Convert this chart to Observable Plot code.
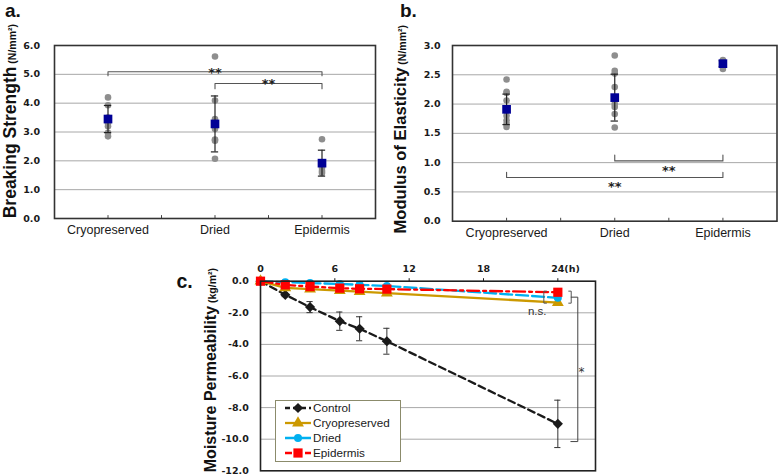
<!DOCTYPE html>
<html><head><meta charset="utf-8">
<script src="https://cdn.jsdelivr.net/npm/d3@7"></script>
<script src="https://cdn.jsdelivr.net/npm/@observablehq/plot@0.6"></script>
<style>
body{margin:0;background:#fff;}
#wrap{position:relative;width:779px;height:476px;overflow:hidden;font-family:"Liberation Sans",Arial,sans-serif;color:#1a1a1a;}
.panel{position:absolute;}
.plabel{position:absolute;font-weight:bold;font-family:"Liberation Sans",Arial,sans-serif;line-height:normal;color:#111;}
#legend{position:absolute;left:275px;top:400px;width:124px;height:60px;border:1px solid #8b8b6b;background:#fff;}
.lrow{position:absolute;left:0;height:14px;width:124px;}
.lrow svg{position:absolute;left:9px;top:0;}
.lrow span{position:absolute;left:37px;top:0;font-size:11.7px;line-height:14px;font-family:"Liberation Sans",Arial,sans-serif;}
</style></head><body><div id="wrap"></div>
<script>
// ---------- shared ----------
const categories = ["Cryopreserved", "Dried", "Epidermis"];

// ---------- panel a: Breaking Strength ----------
const aDotsCryo  = [4.2, 3.93, 3.5, 3.3, 3.2, 2.97, 2.85];
const aDotsDried = [5.62, 4.09, 3.45, 3.2, 3.1, 2.74, 2.7, 2.07];
const aDotsEpi   = [2.75, 1.95, 1.85, 1.75, 1.65, 1.58];
const aMeans = [3.45, 3.28, 1.92];
const aSD    = [0.47, 0.97, 0.45];
const aTicks = [0, 1, 2, 3, 4, 5, 6];
const aBrackets = [
  {from: 0, to: 2, level: 5.09, tip: 4.95, label: "**", labelY: 5.05},
  {from: 1, to: 2, level: 4.68, tip: 4.50, label: "**", labelY: 4.66}
];

// ---------- panel b: Modulus of Elasticity ----------
const bDotsCryo  = [2.42, 2.21, 2.19, 2.06, 1.9, 1.8, 1.72, 1.66, 1.61];
const bDotsDried = [2.83, 2.57, 2.52, 2.29, 2.0, 1.95, 1.83, 1.6];
const bDotsEpi   = [2.75, 2.71, 2.66, 2.6];
const bMeans = [1.91, 2.11, 2.69];
const bSD    = [0.26, 0.40, 0.05];
const bTicks = [0, 0.5, 1, 1.5, 2, 2.5, 3];
const bBrackets = [
  {from: 1, to: 2, level: 1.03, tip: 1.13, label: "**", labelY: 0.86},
  {from: 0, to: 2, level: 0.746, tip: 0.837, label: "**", labelY: 0.587}
];

// ---------- panel c: Moisture Permeability ----------
const times = [0, 2, 4, 6.4, 8, 10.2, 24];
const seriesNames = ["Control", "Cryopreserved", "Dried", "Epidermis"];
const controlValues = [0, -0.86, -1.64, -2.53, -3.01, -3.8, -9.03];
const controlErr    = [0, 0.12, 0.35, 0.58, 0.76, 0.82, 1.5];
const cryoValues    = [0, -0.42, -0.5, -0.6, -0.66, -0.75, -1.35];
const driedValues   = [0, -0.06, -0.12, -0.17, -0.23, -0.3, -1.05];
const epiValues     = [0, -0.23, -0.34, -0.44, -0.48, -0.5, -0.7];
const seriesColors  = ["#1a1a1a", "#CC9900", "#00B0F0", "#FF0000"];
const seriesDash    = ["7,4", null, "12,4", "12,4,3,4"];
const seriesSymbols = ["diamond2", "triangle", "circle", "square"];
const seriesSizes   = [4.6, 4.4, 4.0, 5.2];
const cXTicks = [0, 6, 12, 18, 24];
const cYTicks = [0, -2, -4, -6, -8, -10, -12];

const tickFont = {fontFamily: "DejaVu Sans", fontWeight: "bold", fontSize: 9.5};
const fmt1 = d => d.toFixed(1);
const wrap = document.getElementById("wrap");

function addPanel(svg, left, top) {
  const d = document.createElement("div");
  d.className = "panel";
  d.style.left = left + "px"; d.style.top = top + "px";
  d.appendChild(svg);
  wrap.appendChild(d);
}
function addLabel(txt, left, top, fs) {
  const d = document.createElement("div");
  d.className = "plabel"; d.textContent = txt;
  d.style.left = left + "px"; d.style.top = top + "px"; d.style.fontSize = fs + "px";
  wrap.appendChild(d);
}
function addYTitle(svg, x, yEnd, big, small, bigSize) {
  const t = d3.select(svg).append("text")
    .attr("transform", `translate(${x},${yEnd}) rotate(-90)`)
    .attr("text-anchor", "end")
    .attr("font-family", "Liberation Sans, Arial, sans-serif")
    .attr("font-weight", "bold")
    .attr("fill", "#111");
  t.append("tspan").style("font-size", bigSize + "px").text(big);
  t.append("tspan").style("font-size", "10.5px").text(" " + small);
}

function scatterPanel(opts) {
  const {dotsList, means, sds, ticks, brackets, yMax, width, height, margins, capHalf, tickLen} = opts;
  const dots = [];
  dotsList.forEach((arr, i) => arr.forEach(v => dots.push({i, v})));
  const stats = means.map((m, i) => ({i, mean: m, sd: sds[i]}));
  const brLines = [];
  brackets.forEach((b, k) => {
    brLines.push({k, x: b.from, y: b.tip}, {k, x: b.from, y: b.level},
                 {k, x: b.to, y: b.level}, {k, x: b.to, y: b.tip});
  });
  const minor = [0, 0.5, 1, 1.5, 2];
  return Plot.plot({
    width, height,
    marginLeft: margins[0], marginRight: margins[1], marginTop: margins[2], marginBottom: margins[3],
    x: {domain: [-0.5, 2.5]},
    y: {domain: [0, yMax]},
    style: {background: "transparent", fontFamily: "Liberation Sans, Arial, sans-serif", fontSize: "12.5px", color: "#1a1a1a"},
    marks: [
      Plot.gridY(ticks.slice(1, -1), {stroke: "#a8a8a8", strokeOpacity: 1}),
      Plot.axisY({ticks, tickSize: 0, tickPadding: opts.yPad, tickFormat: fmt1, label: null, ...tickFont}),
      Plot.axisX({ticks: [0, 1, 2], tickSize: 0, tickPadding: 6.6, tickFormat: i => categories[i], label: null, fontSize: 12.5}),
      Plot.ruleX(minor, {x: d => d, y1: 0, y2: tickLen, stroke: "#444"}),
      Plot.dot(dots, {x: "i", y: "v", r: 3.3, fill: "#8e8e8e"}),
      Plot.ruleX(stats, {x: "i", y1: d => d.mean - d.sd, y2: d => d.mean + d.sd, stroke: "#222", strokeWidth: 1.2}),
      Plot.ruleY(stats, {y: d => d.mean + d.sd, x1: d => d.i - capHalf, x2: d => d.i + capHalf, stroke: "#222", strokeWidth: 1.2}),
      Plot.ruleY(stats, {y: d => d.mean - d.sd, x1: d => d.i - capHalf, x2: d => d.i + capHalf, stroke: "#222", strokeWidth: 1.2}),
      Plot.dot(stats, {x: "i", y: "mean", symbol: "square", r: 4.9, fill: "#000096"}),
      Plot.line(brLines, {x: "x", y: "y", z: "k", stroke: "#555", strokeWidth: 1.1}),
      Plot.text(brackets, {x: d => (d.from + d.to) / 2, y: "labelY", text: "label", fontFamily: "DejaVu Sans", fontWeight: "bold", fontSize: 13, fill: "#222"}),
      Plot.frame({stroke: "#333", strokeWidth: 1.6})
    ]
  });
}

// panel a
const svgA = scatterPanel({
  dotsList: [aDotsCryo, aDotsDried, aDotsEpi], means: aMeans, sds: aSD, ticks: aTicks, brackets: aBrackets,
  yMax: 6, width: 390, height: 240, margins: [54, 15, 45, 22], capHalf: 0.034, tickLen: 0.1, yPad: 14.5
});
addYTitle(svgA, 16.2, 24, "Breaking Strength", "(N/mm²)", 17.5);
addPanel(svgA, 0, 0);

// panel b
const svgB = scatterPanel({
  dotsList: [bDotsCryo, bDotsDried, bDotsEpi], means: bMeans, sds: bSD, ticks: bTicks, brackets: bBrackets,
  yMax: 3, width: 389, height: 240, margins: [62, 2.5, 45, 19.3], capHalf: 0.034, tickLen: 0.05, yPad: 12
});
addYTitle(svgB, 15.6, 25, "Modulus of Elasticity", "(N/mm²)", 16.6);
addPanel(svgB, 390, 0);

// panel c
const allValues = [controlValues, cryoValues, driedValues, epiValues];
const controlRows = times.map((t, j) => ({t, v: controlValues[j], e: controlErr[j]})).filter(d => d.e > 0);
const nsLeft  = [{x: 23.08, y: -0.63}, {x: 22.87, y: -0.63}, {x: 22.87, y: -1.39}, {x: 23.08, y: -1.39}];
const nsRight = [{x: 24.88, y: -0.63}, {x: 25.08, y: -0.63}, {x: 25.08, y: -1.39}, {x: 24.88, y: -1.39}];
const starBracket = [{x: 25.08, y: -1.01}, {x: 25.61, y: -1.01}, {x: 25.61, y: -10.15}, {x: 25.05, y: -10.15}];
const seriesMarks = [];
seriesNames.forEach((name, s) => {
  const rows = times.map((t, j) => ({t, v: allValues[s][j]}));
  seriesMarks.push(Plot.line(rows, {x: "t", y: "v", stroke: seriesColors[s], strokeWidth: 2.3, strokeDasharray: seriesDash[s]}));
  if (s === 0) {
    seriesMarks.push(Plot.ruleX(controlRows, {x: "t", y1: d => d.v - d.e, y2: d => d.v + d.e, stroke: "#333", strokeWidth: 1}));
    seriesMarks.push(Plot.ruleY(controlRows, {y: d => d.v + d.e, x1: d => d.t - 0.25, x2: d => d.t + 0.25, stroke: "#333", strokeWidth: 1}));
    seriesMarks.push(Plot.ruleY(controlRows, {y: d => d.v - d.e, x1: d => d.t - 0.25, x2: d => d.t + 0.25, stroke: "#333", strokeWidth: 1}));
  }
  seriesMarks.push(Plot.dot(rows, {x: "t", y: "v", symbol: seriesSymbols[s], r: seriesSizes[s], fill: seriesColors[s]}));
});
const svgC = Plot.plot({
  width: 779, height: 236,
  marginLeft: 260, marginRight: 184, marginTop: 40.7, marginBottom: 5.7,
  x: {domain: [0, 27.04]},
  y: {domain: [-12, 0]},
  style: {background: "transparent", fontFamily: "Liberation Sans, Arial, sans-serif", fontSize: "12px", color: "#1a1a1a"},
  marks: [
    Plot.gridY(cYTicks.slice(1, -1), {stroke: "#a8a8a8", strokeOpacity: 1}),
    Plot.axisY({ticks: cYTicks, tickSize: 0, tickPadding: 11.7, tickFormat: fmt1, label: null, ...tickFont}),
    Plot.axisX({anchor: "top", ticks: cXTicks, tickSize: 3.5, tickPadding: 6, tickFormat: d => String(d), label: null, ...tickFont}),
    Plot.text(["(h)"], {x: () => 24, y: () => 0, text: d => d, textAnchor: "start", lineAnchor: "bottom", dx: 6.5, dy: -9.5, ...tickFont}),
    ...seriesMarks,
    Plot.line(nsLeft, {x: "x", y: "y", stroke: "#555", strokeWidth: 1}),
    Plot.line(nsRight, {x: "x", y: "y", stroke: "#555", strokeWidth: 1}),
    Plot.line(starBracket, {x: "x", y: "y", stroke: "#444", strokeWidth: 1}),
    Plot.text(["n.s."], {x: () => 22.33, y: () => -1.9, text: d => d, fontSize: 11.5, fill: "#333"}),
    Plot.text(["*"], {x: () => 25.91, y: () => -5.74, text: d => d, fontSize: 12, fontFamily: "DejaVu Sans", fill: "#333"}),
    Plot.frame({stroke: "#222", strokeWidth: 1.6})
  ]
});
addYTitle(svgC, 216, 28, "Moisture Permeability", "(kg/m²)", 16);
addPanel(svgC, 0, 240);

// legend
const legend = document.createElement("div");
legend.id = "legend";
const symMap = {diamond2: d3.symbolDiamond2, triangle: d3.symbolTriangle, circle: d3.symbolCircle, square: d3.symbolSquare};
seriesNames.forEach((name, s) => {
  const row = document.createElement("div");
  row.className = "lrow";
  row.style.top = (0.3 + s * 15) + "px";
  const sv = d3.create("svg").attr("width", 26).attr("height", 14);
  sv.append("line").attr("x1", 0).attr("x2", 26).attr("y1", 7).attr("y2", 7)
    .attr("stroke", seriesColors[s]).attr("stroke-width", 2.3)
    .attr("stroke-dasharray", s === 0 ? "5,3" : s === 3 ? "7,3" : seriesDash[s]);
  sv.append("path").attr("transform", "translate(13,7)")
    .attr("d", d3.symbol(symMap[seriesSymbols[s]], Math.PI * seriesSizes[s] * seriesSizes[s])())
    .attr("fill", seriesColors[s]);
  row.appendChild(sv.node());
  const sp = document.createElement("span");
  sp.textContent = name;
  row.appendChild(sp);
  legend.appendChild(row);
});
wrap.appendChild(legend);

// panel labels
addLabel("a.", 5, 0, 19);
addLabel("b.", 400, 0, 19);
addLabel("c.", 176.5, 270, 19.5);
</script></body></html>
